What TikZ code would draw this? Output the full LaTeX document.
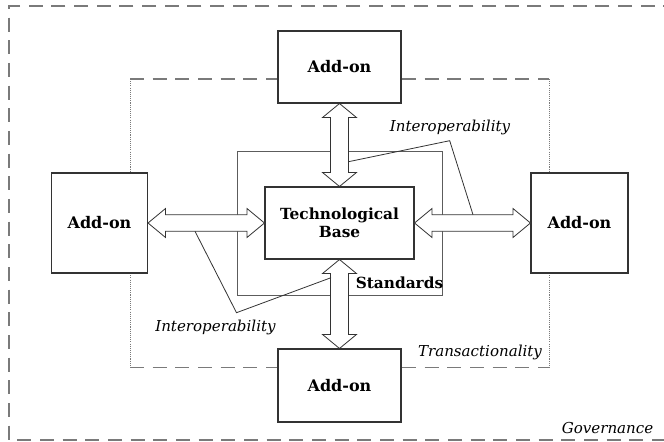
\documentclass[tikz,border=0pt]{standalone}
\usepackage{fontspec}
\setmainfont{DejaVu Serif}
\usetikzlibrary{calc}
\definecolor{dashgray}{HTML}{7A7A7A}
\definecolor{boxline}{HTML}{333333}
\tikzset{
  box/.style={draw=boxline, line width=0.8pt, fill=white, inner sep=0pt, font=\bfseries\fontsize{12}{13.5}\selectfont, align=center},
  stdbox/.style={draw=boxline!80, line width=0.6pt, inner sep=0pt},
  arrowline/.style={draw=boxline, line width=0.6pt, fill=white, line join=miter},
  leader/.style={draw=boxline, line width=0.6pt},
  frameline/.style={draw=dashgray, line width=1.3pt, dash pattern=on 10.5pt off 6.5pt},
  dotline/.style={draw=dashgray, line width=0.5pt, dash pattern=on 0.8pt off 0.8pt},
  italiclabel/.style={font=\itshape\fontsize{11.3}{13}\selectfont, inner sep=0pt},
  boldlabel/.style={font=\bfseries\fontsize{11.5}{13}\selectfont, inner sep=0pt}
}
\newcommand\myvarrow[2]{%
  \draw[arrowline] (#1) -- ($(#1)+(17,14)$) -- ($(#1)+(9,14)$) -- ($(#2)+(9,-14)$) -- ($(#2)+(17,-14)$) -- (#2) -- ($(#2)+(-17,-14)$) -- ($(#2)+(-9,-14)$) -- ($(#1)+(-9,14)$) -- ($(#1)+(-17,14)$) -- cycle;}
\newcommand\myharrow[2]{%
  \draw[arrowline] (#1) -- ($(#1)+(17.5,-14.5)$) -- ($(#1)+(17.5,-8.3)$) -- ($(#2)+(-17.5,-8.3)$) -- ($(#2)+(-17.5,-14.5)$) -- (#2) -- ($(#2)+(-17.5,14.5)$) -- ($(#2)+(-17.5,8.3)$) -- ($(#1)+(17.5,8.3)$) -- ($(#1)+(17.5,14.5)$) -- cycle;}
\begin{document}
\begin{tikzpicture}[x=0.75pt,y=-0.75pt]
\useasboundingbox (0,0) rectangle (664,442);
\clip (0,0) rectangle (664,442);
% outer governance frame (right side beyond the picture)
\draw[frameline] (700,6) -- (9,6) -- (9,440) -- (700,440);
% transactionality frame
\draw[frameline] (130,79) -- (549,79);
\draw[frameline] (130,367.5) -- (549,367.5);
\draw[dotline] (130,79) -- (130,367.5);
\draw[dotline] (549,79) -- (549,367.5);
% standards rectangle
\node[stdbox, minimum width=153.75pt, minimum height=108pt] (std) at (339.5,223) {};
% add-on boxes
\node[box, minimum width=92.25pt, minimum height=54pt] (top) at (339.5,67) {Add-on};
\node[box, minimum width=92.25pt, minimum height=54.75pt] (bot) at (339.5,385.5) {Add-on};
\node[box, minimum width=72pt, minimum height=75pt] (lft) at (99.5,223) {Add-on};
\node[box, minimum width=72.75pt, minimum height=75pt] (rgt) at (579.5,223) {Add-on};
% technological base
\node[box, font=\bfseries\fontsize{11.5}{13.5}\selectfont, minimum width=111.75pt, minimum height=54pt] (tech) at (339.5,223) {Technological\\Base};
% double arrows
\myvarrow{top.south}{tech.north}
\myvarrow{tech.south}{bot.north}
\myharrow{lft.east}{tech.west}
\myharrow{tech.east}{rgt.west}
% leader lines
\coordinate (ta) at (348.5,161.7);
\coordinate (tb) at (449.7,140.7);
\coordinate (tc) at (473,214.7);
\coordinate (ba) at (195,231.3);
\coordinate (bb) at (236.5,312.7);
\coordinate (bc) at (331,277.7);
\draw[leader] (ta) -- (tb) -- (tc);
\draw[leader] (ba) -- (bb) -- (bc);
% labels
\node[italiclabel] (iop1) at (450,127) {Interoperability};
\node[italiclabel] (iop2) at (215.5,327) {Interoperability};
\node[boldlabel] (stdlab) at (399.5,283) {Standards};
\node[italiclabel] (trans) at (480,352) {Transactionality};
\node[italiclabel] (gov) at (607.5,428) {Governance};
\end{tikzpicture}
\end{document}
